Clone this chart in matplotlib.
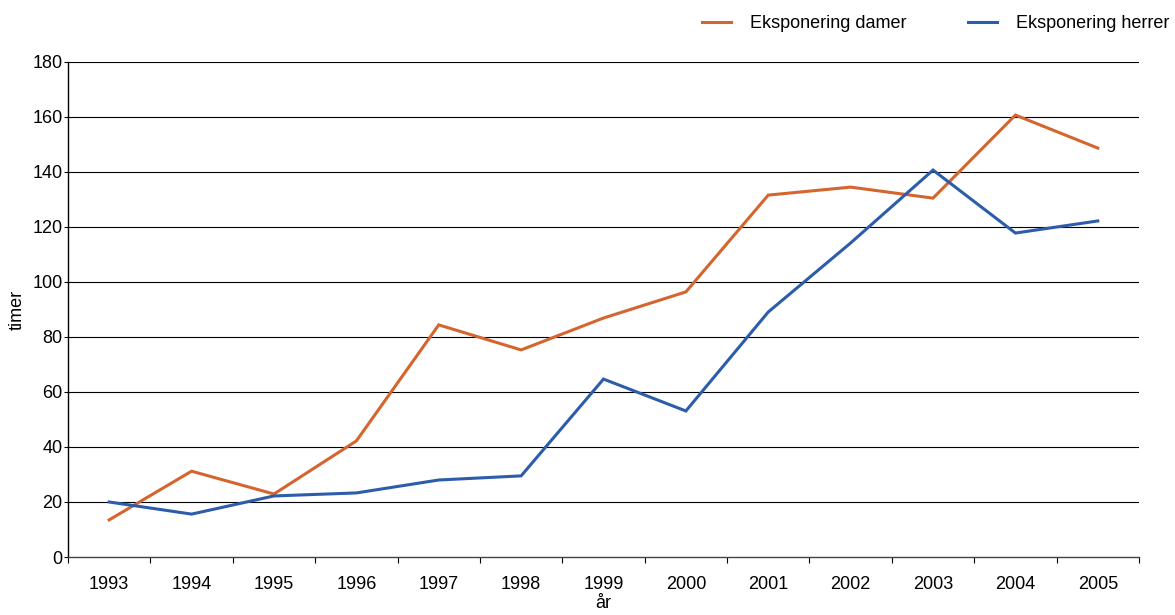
import numpy as np
import matplotlib.pyplot as plt

plt.rcParams['font.family'] = ['Liberation Sans', 'DejaVu Sans']

years = ['1993', '1994', '1995', '1996', '1997', '1998', '1999',
         '2000', '2001', '2002', '2003', '2004', '2005']
damer = [13.5, 31.2, 22.9, 42.2, 84.4, 75.3, 86.9, 96.4, 131.6, 134.5, 130.5, 160.7, 148.7]
herrer = [20.0, 15.6, 22.2, 23.3, 28.0, 29.5, 64.7, 53.1, 89.1, 114.2, 140.7, 117.8, 122.2]
yticks = [0, 20, 40, 60, 80, 100, 120, 140, 160, 180]

ORANGE = '#D5652E'
BLUE = '#2C5DAA'
FS = 13

fig = plt.figure(figsize=(11.75, 6.15), dpi=100)
ax = fig.add_axes([68 / 1175, 1 - 557 / 615, (1139 - 68) / 1175, (557 - 62) / 615])

x = np.arange(len(years))
ax.plot(x, damer, color=ORANGE, lw=2.2, label='Eksponering damer', solid_joinstyle='miter')
ax.plot(x, herrer, color=BLUE, lw=2.2, label='Eksponering herrer', solid_joinstyle='miter')

ax.set_xlim(-0.5, len(years) - 0.5)
ax.set_ylim(0, 180)

# horizontal grid
for v in yticks[1:]:
    ax.axhline(v, color='black', lw=0.8, zorder=0)

ax.set_yticks(yticks)
ax.tick_params(axis='y', length=3, width=0.8, labelsize=FS, pad=1)

# category axis: ticks between categories, labels centered
ax.set_xticks(np.arange(-0.5, len(years), 1.0))
ax.set_xticklabels([])
ax.set_xticks(x, minor=True)
ax.set_xticklabels(years, minor=True)
ax.tick_params(axis='x', which='major', length=4, width=0.8)
ax.tick_params(axis='x', which='minor', length=0, labelsize=FS, pad=14)

for s in ['top', 'right']:
    ax.spines[s].set_visible(False)
ax.spines['left'].set_linewidth(1.0)
ax.spines['bottom'].set_linewidth(1.0)
ax.spines['bottom'].set_color('#444444')

ax.set_ylabel('timer', fontsize=FS, labelpad=5)
ax.set_xlabel('år', fontsize=FS, labelpad=1)

fig.legend(loc='center left', bbox_to_anchor=(702 / 1175, 1 - 24 / 615), ncol=2,
           frameon=False, fontsize=FS, handlelength=1.6, handletextpad=1.05,
           columnspacing=3.4, borderpad=0, borderaxespad=0)

fig.savefig('out.png', dpi=100)
